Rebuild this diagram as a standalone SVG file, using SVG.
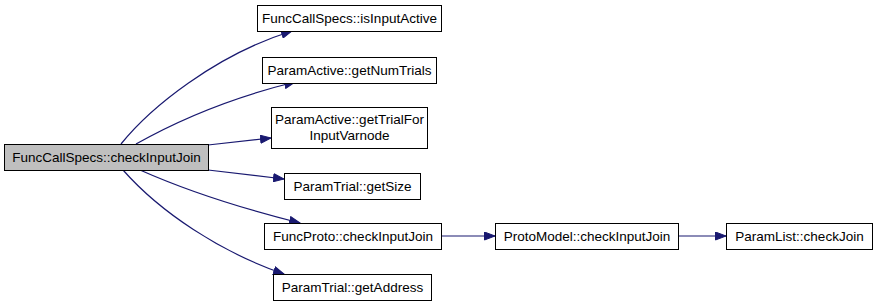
<svg xmlns="http://www.w3.org/2000/svg" width="879" height="307" viewBox="0 0 879 307">
  <style>
    .box { fill: #ffffff; stroke: #000000; stroke-width: 1; }
    .root { fill: #bfbfbf; stroke: #000000; stroke-width: 1; }
    .lbl { font-family: "Liberation Sans", Arial, sans-serif; font-size: 13.5px; fill: #000000; text-anchor: middle; }
    .edge { fill: none; stroke: #191970; stroke-width: 1.2; }
  </style>
  <defs>
    <marker id="arrow" markerUnits="userSpaceOnUse" markerWidth="12" markerHeight="9" refX="11" refY="4.5" orient="auto">
      <path d="M0.5,0.5 L11,4.5 L0.5,8.5 z" fill="#191970" stroke="#191970" stroke-width="1"/>
    </marker>
  </defs>

  <g id="connectors">
    <path class="edge" marker-end="url(#arrow)" d="M121,144 C150,108 215,55 292,31"/>
    <path class="edge" marker-end="url(#arrow)" d="M136,144 C175,122 230,98 295,82"/>
    <path class="edge" marker-end="url(#arrow)" d="M208,145 L271,138"/>
    <path class="edge" marker-end="url(#arrow)" d="M208,170 L284,179"/>
    <path class="edge" marker-end="url(#arrow)" d="M140,170 C185,190 240,208 300,223"/>
    <path class="edge" marker-end="url(#arrow)" d="M123,170 C160,212 220,252 284,274"/>
    <path class="edge" marker-end="url(#arrow)" d="M441,236 L495,236"/>
    <path class="edge" marker-end="url(#arrow)" d="M678,236 L726,236"/>
  </g>

  <g id="node-checkInputJoin-root">
    <rect class="root" x="4.5" y="144.5" width="204" height="26"/>
    <text class="lbl" x="106.5" y="162">FuncCallSpecs::checkInputJoin</text>
  </g>
  <g id="node-isInputActive">
    <rect class="box" x="257.5" y="5.5" width="184" height="26"/>
    <text class="lbl" x="349.5" y="23">FuncCallSpecs::isInputActive</text>
  </g>
  <g id="node-getNumTrials">
    <rect class="box" x="262.5" y="57.5" width="174" height="26"/>
    <text class="lbl" x="349.5" y="75">ParamActive::getNumTrials</text>
  </g>
  <g id="node-getTrialForInputVarnode">
    <rect class="box" x="271.5" y="107.5" width="156" height="41"/>
    <text class="lbl" x="349.5" y="124">ParamActive::getTrialFor</text>
    <text class="lbl" x="349.5" y="140">InputVarnode</text>
  </g>
  <g id="node-getSize">
    <rect class="box" x="284.5" y="173.5" width="136" height="26"/>
    <text class="lbl" x="352.5" y="191">ParamTrial::getSize</text>
  </g>
  <g id="node-FuncProto-checkInputJoin">
    <rect class="box" x="264.5" y="223.5" width="177" height="26"/>
    <text class="lbl" x="353" y="241">FuncProto::checkInputJoin</text>
  </g>
  <g id="node-getAddress">
    <rect class="box" x="273.5" y="274.5" width="158" height="26"/>
    <text class="lbl" x="352.5" y="292">ParamTrial::getAddress</text>
  </g>
  <g id="node-ProtoModel-checkInputJoin">
    <rect class="box" x="495.5" y="223.5" width="183" height="26"/>
    <text class="lbl" x="587" y="241">ProtoModel::checkInputJoin</text>
  </g>
  <g id="node-ParamList-checkJoin">
    <rect class="box" x="726.5" y="223.5" width="146" height="26"/>
    <text class="lbl" x="799.5" y="241">ParamList::checkJoin</text>
  </g>
</svg>
